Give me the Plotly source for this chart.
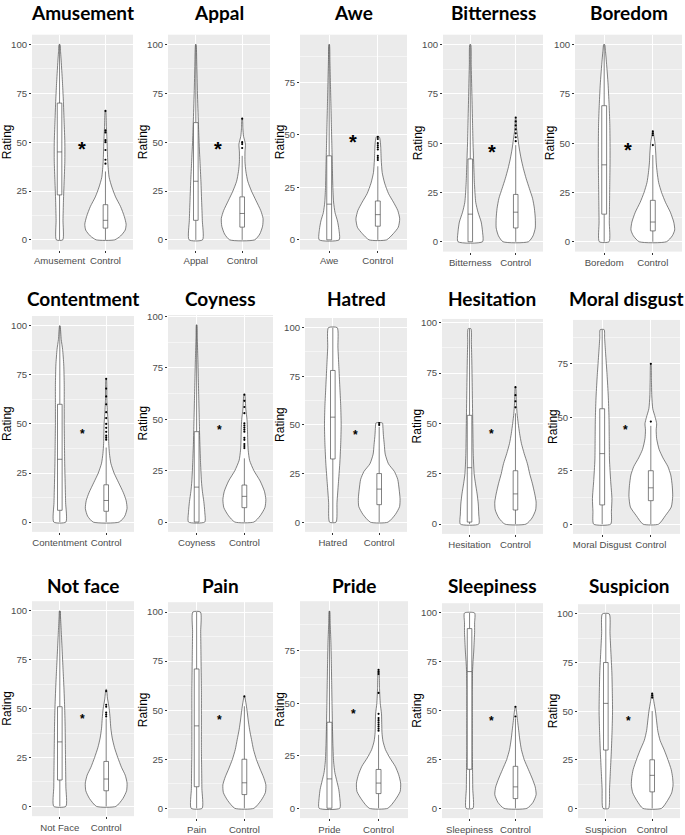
import plotly.graph_objects as go

# ---------------- DATA ----------------
emotions = ["Amusement", "Appal", "Awe", "Bitterness", "Boredom",
            "Contentment", "Coyness", "Hatred", "Hesitation", "Moral disgust",
            "Not face", "Pain", "Pride", "Sleepiness", "Suspicion"]

x_labels = ["Amusement", "Appal", "Awe", "Bitterness", "Boredom",
            "Contentment", "Coyness", "Hatred", "Hesitation", "Moral Disgust",
            "Not Face", "Pain", "Pride", "Sleepiness", "Suspicion"]

control_label = "Control"

# violin profiles: (rating, half-width of density in x units)
cat_profiles = [
    [(0, .07), (10, .075), (20, .085), (30, .1), (40, .115), (50, .115), (60, .1), (70, .085), (80, .065), (90, .04), (97, .02), (100, .01)],
    [(0, .145), (10, .14), (20, .125), (30, .11), (40, .09), (50, .07), (60, .055), (75, .035), (90, .02), (100, .005)],
    [(0, .205), (5, .2), (9, .17), (13, .12), (18, .09), (25, .075), (35, .065), (45, .055), (55, .045), (65, .035), (75, .025), (85, .015), (93, .005)],
    [(0, .27), (5, .27), (10, .24), (15, .17), (20, .12), (30, .09), (40, .075), (50, .06), (60, .05), (75, .035), (90, .02), (100, .01)],
    [(0, .1), (10, .105), (20, .11), (30, .115), (40, .12), (50, .12), (60, .115), (70, .1), (80, .08), (90, .05), (97, .025), (100, .01)],
    [(0, .13), (10, .125), (20, .115), (30, .105), (40, .1), (50, .095), (60, .095), (70, .095), (80, .085), (88, .06), (93, .03), (100, .005)],
    [(0, .17), (5, .17), (10, .15), (15, .12), (20, .1), (30, .08), (40, .065), (50, .055), (60, .045), (70, .035), (80, .025), (90, .012), (96, .005)],
    [(0, .07), (10, .09), (20, .12), (30, .15), (40, .17), (50, .18), (60, .17), (70, .15), (80, .13), (90, .11), (100, .095)],
    [(0, .2), (5, .2), (10, .19), (15, .165), (20, .13), (25, .1), (35, .08), (50, .07), (65, .06), (80, .05), (90, .04), (97, .03)],
    [(0, .175), (6, .19), (12, .2), (20, .175), (30, .15), (40, .145), (50, .14), (60, .125), (70, .1), (80, .07), (87, .05), (91, .04)],
    [(0, .13), (10, .13), (20, .125), (30, .12), (40, .115), (50, .105), (60, .09), (70, .07), (80, .05), (90, .03), (97, .015), (100, .008)],
    [(0, .115), (10, .11), (20, .105), (30, .1), (40, .1), (50, .1), (60, .1), (70, .095), (80, .09), (90, .085), (100, .08)],
    [(0, .21), (5, .21), (9, .19), (13, .15), (17, .11), (22, .085), (30, .07), (40, .06), (50, .052), (60, .045), (70, .038), (80, .028), (88, .015), (94, .005)],
    [(0, .075), (10, .07), (20, .065), (30, .06), (40, .06), (50, .06), (60, .06), (70, .065), (75, .075), (80, .09), (85, .1), (90, .11), (95, .11), (100, .11)],
    [(0, .06), (10, .08), (20, .1), (30, .12), (40, .135), (50, .145), (60, .14), (70, .13), (80, .11), (90, .09), (100, .075)],
]

ctrl_profiles = [
    [(0, .2), (2, .33), (5, .43), (8, .45), (12, .41), (17, .33), (22, .22), (27, .14), (32, .08), (40, .05), (50, .035), (58, .02), (66, .005)],
    [(0, .27), (3, .38), (7, .44), (11, .45), (15, .4), (20, .3), (25, .2), (30, .12), (35, .08), (40, .06), (45, .06), (49, .07), (53, .03), (57, .015), (62, .005)],
    [(0, .18), (3, .32), (6, .42), (10, .45), (14, .41), (18, .32), (22, .22), (27, .14), (32, .09), (38, .07), (44, .06), (47, .05), (49, .03)],
    [(0, .28), (3, .38), (7, .43), (12, .43), (17, .41), (22, .37), (27, .3), (32, .23), (37, .17), (42, .12), (47, .08), (52, .05), (57, .02), (63, .005)],
    [(0, .28), (3, .4), (6, .45), (10, .43), (15, .36), (20, .26), (25, .18), (30, .12), (35, .09), (40, .07), (45, .06), (50, .045), (54, .02), (56, .005)],
    [(0, .28), (3, .4), (7, .45), (11, .43), (15, .37), (20, .27), (25, .17), (30, .1), (35, .07), (40, .055), (45, .05), (50, .045), (55, .03), (62, .015), (73, .005)],
    [(0, .2), (3, .33), (7, .43), (11, .45), (15, .42), (20, .33), (25, .2), (30, .11), (35, .08), (40, .07), (45, .065), (50, .055), (55, .03), (62, .008)],
    [(0, .19), (4, .35), (8, .44), (12, .45), (17, .43), (22, .4), (26, .33), (30, .2), (35, .13), (40, .11), (45, .09), (49, .08), (51, .07)],
    [(0, .23), (3, .36), (7, .44), (11, .45), (15, .42), (20, .37), (25, .31), (30, .26), (35, .19), (40, .13), (45, .09), (50, .06), (55, .035), (60, .02), (68, .005)],
    [(0, .16), (4, .3), (8, .42), (13, .45), (18, .44), (23, .41), (27, .35), (31, .25), (35, .17), (40, .12), (44, .11), (47, .12), (50, .09), (54, .04), (60, .02), (68, .012), (75, .004)],
    [(0, .21), (4, .36), (8, .44), (12, .45), (16, .41), (20, .33), (25, .25), (30, .18), (35, .13), (40, .1), (45, .085), (50, .065), (55, .03), (60, .005)],
    [(0, .2), (4, .35), (8, .44), (12, .45), (16, .4), (20, .33), (25, .25), (30, .19), (35, .15), (40, .11), (45, .08), (50, .055), (54, .03), (57, .005)],
    [(0, .19), (4, .34), (8, .44), (12, .45), (16, .41), (20, .34), (24, .23), (28, .14), (32, .09), (36, .07), (40, .065), (45, .06), (50, .035), (57, .02), (63, .015), (66, .005)],
    [(0, .25), (3, .38), (7, .45), (11, .43), (15, .37), (20, .28), (25, .19), (30, .13), (35, .095), (40, .07), (45, .045), (49, .025), (52, .005)],
    [(0, .2), (4, .33), (8, .42), (12, .45), (16, .44), (20, .41), (25, .34), (30, .26), (35, .17), (40, .12), (45, .095), (50, .07), (55, .035), (59, .008)],
]

# box statistics: [q1, median, q3, lower whisker, upper whisker]
cat_boxes = [
    [23, 45, 70, 0, 100], [10, 30, 60, 0, 100], [0, 17, 40, 0, 93], [0, 14, 42, 0, 100], [14, 39, 69, 0, 100],
    [6, 32, 60, 0, 100], [0, 17, 44, 0, 96], [32.5, 54, 78, 0, 100], [1, 28, 54, 0, 97], [9, 33, 54, 0, 91],
    [13.5, 33, 51, 0, 100], [11, 42, 71, 0, 100], [0, 14, 41, 0, 94], [20, 70, 92, 0, 100], [30, 54, 75, 0, 100],
]
ctrl_boxes = [
    [6, 10, 18, 0, 35], [6.5, 13.5, 22, 0, 43], [6.5, 12, 18.5, 0, 35], [7, 15, 24, 0, 49], [5.5, 10, 21, 0, 44],
    [5.5, 11, 19, 0, 38], [7, 12.5, 18, 0, 31], [9, 17, 25, 0, 49], [7, 15, 26.5, 0, 55], [11, 17, 25, 0, 46],
    [8, 14, 23, 0, 45], [7, 13, 25, 0, 52], [7, 12, 18.5, 0, 35], [5, 11, 21.5, 0, 46], [8.5, 17, 25, 0, 50],
]

ctrl_outliers = [
    [39, 41, 46, 50, 51, 55, 56, 66],
    [47, 49, 50, 62],
    [38, 39, 40, 43, 44, 45, 46, 48, 49],
    [51, 53, 55, 57, 59, 61, 63],
    [49, 54, 55, 56],
    [42, 43, 44, 46, 48, 50, 53, 56, 60, 64, 68, 73],
    [36, 37, 38, 40, 41, 44, 45, 46, 47, 48, 53, 56, 59, 62],
    [50, 51],
    [58, 61, 64, 68],
    [48, 75],
    [46, 47, 48, 51, 52, 59],
    [57],
    [37, 38, 39, 40, 41, 42, 43, 45, 55, 64, 65, 66],
    [47, 52],
    [57, 58, 59],
]

star_y = [47, 47, 47, 46, 47, 46, 46, 46, 46, 45, 46, 46, 46, 46, 46]
y_ticks = [0, 25, 50, 75, 100]

# ---------------- LAYOUT (pixel boxes of each panel: left, right, top, bottom) ----------------
W, H = 685, 835
PANELS = [
    (32, 133, 31, 248), (168, 270, 31, 248), (300, 407, 31, 248), (443, 543, 31, 250), (575, 682, 31, 250),
    (32, 134, 315, 533), (168, 273, 314, 533), (305, 407, 317, 533), (442, 543, 318, 535), (573, 680, 319, 535),
    (32, 134, 603, 820), (168, 273, 604, 822), (300, 408, 603, 822), (442, 543, 605, 822), (578, 680, 606, 822),
]
TITLE_Y = [9, 297, 587]
BOX_HALF = 0.05

LINE_COL = "#4d4d4d"
TICK_FONT = dict(family="Liberation Sans, Arial, sans-serif", size=9.6, color="#4d4d4d")

fig = go.Figure()
annotations = []
layout = {}


def line_trace(xs, ys, xa, ya, fill=False):
    return go.Scatter(x=xs, y=ys, mode="lines", fill="toself" if fill else None,
                      fillcolor="white", line=dict(color=LINE_COL, width=0.7),
                      xaxis=xa, yaxis=ya, hoverinfo="skip", showlegend=False)


for i, name in enumerate(emotions):
    n = i + 1
    xa = "x" if n == 1 else f"x{n}"
    ya = "y" if n == 1 else f"y{n}"
    xk = "xaxis" if n == 1 else f"xaxis{n}"
    yk = "yaxis" if n == 1 else f"yaxis{n}"
    left, right, top, bottom = PANELS[i]
    row = i // 5

    ymax = max(max(p[0] for p in cat_profiles[i]), max(p[0] for p in ctrl_profiles[i]),
               max(ctrl_outliers[i]), cat_boxes[i][4], ctrl_boxes[i][4])
    yr = [-0.05 * ymax, 1.05 * ymax]

    for center, prof, b in ((1, cat_profiles[i], cat_boxes[i]), (2, ctrl_profiles[i], ctrl_boxes[i])):
        # violin outline
        ys = [p[0] for p in prof]
        ws = [p[1] for p in prof]
        xs = [center + w for w in ws] + [center - w for w in ws[::-1]]
        yy = ys + ys[::-1]
        xs.append(xs[0])
        yy.append(yy[0])
        fig.add_trace(go.Scatter(x=xs, y=yy, mode="lines", fill="toself", fillcolor="white",
                                 line=dict(color=LINE_COL, width=0.7, shape="spline", smoothing=0.6),
                                 xaxis=xa, yaxis=ya, hoverinfo="skip", showlegend=False))
        # box plot: whiskers, box, median
        q1, med, q3, lo, hi = b
        fig.add_trace(line_trace([center, center, None, center, center], [lo, q1, None, q3, hi], xa, ya))
        fig.add_trace(line_trace([center - BOX_HALF, center + BOX_HALF, center + BOX_HALF, center - BOX_HALF, center - BOX_HALF],
                                 [q1, q1, q3, q3, q1], xa, ya, fill=True))
        fig.add_trace(line_trace([center - BOX_HALF, center + BOX_HALF], [med, med], xa, ya))

    # outliers
    fig.add_trace(go.Scatter(x=[2] * len(ctrl_outliers[i]), y=ctrl_outliers[i], mode="markers",
                             marker=dict(color="black", size=2.2), xaxis=xa, yaxis=ya,
                             hoverinfo="skip", showlegend=False))

    ticks = [t for t in y_ticks if yr[0] <= t <= yr[1]]
    minor = [t + 12.5 for t in [-25] + y_ticks if yr[0] <= t + 12.5 <= yr[1]]

    layout[xk] = dict(domain=[left / W, right / W], anchor=ya, range=[0.4, 2.6],
                      tickmode="array", tickvals=[1, 2], ticktext=[x_labels[i], control_label],
                      tickangle=0, ticks="outside", ticklen=2, tickwidth=1, tickcolor="#333333",
                      tickfont=TICK_FONT, showgrid=True, gridcolor="white", gridwidth=1,
                      zeroline=False, showline=False, fixedrange=True)
    layout[yk] = dict(domain=[1 - bottom / H, 1 - top / H], anchor=xa, range=yr,
                      tickmode="array", tickvals=ticks, ticktext=[str(t) for t in ticks],
                      ticks="outside", ticklen=2, tickwidth=1, tickcolor="#333333",
                      tickfont=TICK_FONT, showgrid=True, gridcolor="white", gridwidth=1,
                      minor=dict(tickvals=minor, showgrid=True, gridcolor="white", gridwidth=0.5),
                      zeroline=False, showline=False, fixedrange=True)

    # panel title
    annotations.append(dict(text=f"<b>{name}</b>", xref="paper", yref="paper",
                            x=(left + right) / 2 / W, y=1 - TITLE_Y[row] / H,
                            xanchor="center", yanchor="middle", showarrow=False,
                            font=dict(family="Lato, sans-serif", size=19, color="black")))
    # y axis title
    off = 25 if 100 in ticks else 20
    annotations.append(dict(text="Rating", xref="paper", yref="paper",
                            x=(left - off) / W, y=1 - (top + bottom) / 2 / H,
                            xanchor="center", yanchor="middle", textangle=-90, showarrow=False,
                            font=dict(family="Liberation Sans, Arial, sans-serif", size=12, color="black")))
    # significance star
    fs = 20 if row == 0 else 12
    shift = -0.05 * fs if row == 0 else -0.2 * fs
    annotations.append(dict(text="<b>*</b>", xref=xa, yref=ya, x=1.48, y=star_y[i],
                            xanchor="center", yanchor="middle", yshift=shift, showarrow=False,
                            font=dict(family="Liberation Sans, Arial, sans-serif", size=fs, color="black")))

fig.update_layout(width=W, height=H, margin=dict(l=0, r=0, t=0, b=0),
                  paper_bgcolor="white", plot_bgcolor="#ebebeb", showlegend=False,
                  annotations=annotations, **layout)

fig.write_html("out.html", config={"displayModeBar": False, "staticPlot": True},
               post_script="document.body.style.margin='0';document.body.style.overflow='hidden';")
